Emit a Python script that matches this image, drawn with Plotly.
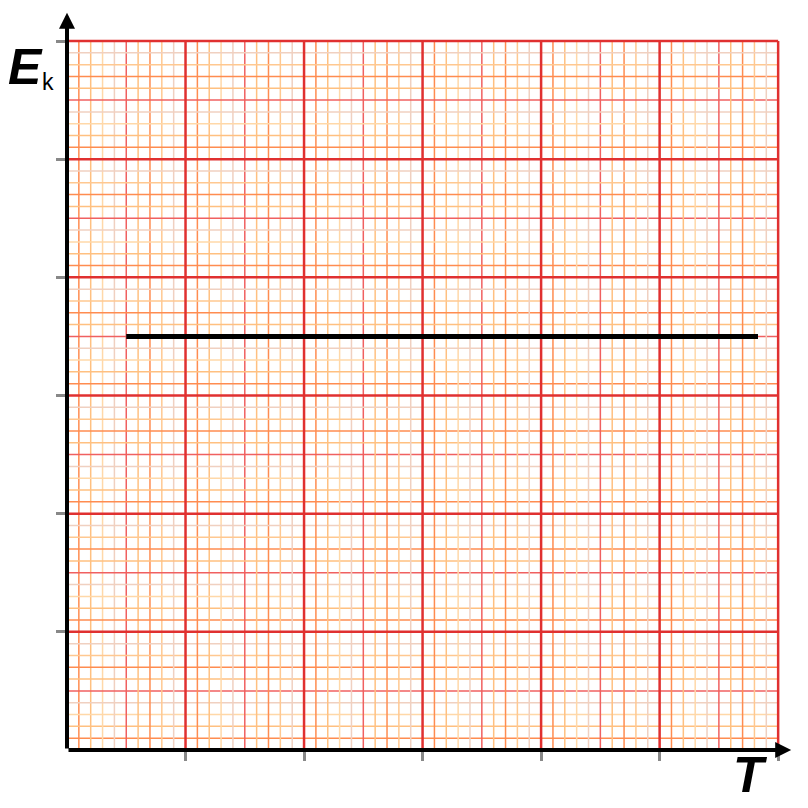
import plotly.graph_objects as go

# data: one horizontal line, Ek constant with T
t_vals = [0.5, 5.83]
ek_vals = [3.5, 3.5]

x_major = [1, 2, 3, 4, 5, 6]
y_major = [1, 2, 3, 4, 5, 6]
x_max, y_max = 6, 6

# colours of the 9 minor lines inside every major cell
minor_cols = ["#ff8c50", "#ffc080", "#ffd8a8", "#f0d0c0", "#f06060",
              "#ffc080", "#ff8c50", "#ffc890", "#f0d0c0"]
major_col = "#e03030"

fig = go.Figure()

shapes = []
for i in range(1, 10 * x_max):
    if i % 10 == 0:
        continue
    c = minor_cols[(i % 10) - 1]
    v = i / 10
    shapes.append(dict(type="line", xref="x", yref="y", x0=v, x1=v, y0=0, y1=y_max,
                       line=dict(color=c, width=1.5), layer="below"))
    shapes.append(dict(type="line", xref="x", yref="y", x0=0, x1=x_max, y0=v, y1=v,
                       line=dict(color=c, width=1.5), layer="below"))
for v in x_major:
    shapes.append(dict(type="line", xref="x", yref="y", x0=v, x1=v, y0=0, y1=y_max,
                       line=dict(color=major_col, width=2.5), layer="below"))
for v in y_major:
    shapes.append(dict(type="line", xref="x", yref="y", x0=0, x1=x_max, y0=v, y1=v,
                       line=dict(color=major_col, width=2.5), layer="below"))

fig.add_trace(go.Scatter(x=t_vals, y=ek_vals, mode="lines",
                         line=dict(color="black", width=5), showlegend=False))

# axes with arrows
fig.add_annotation(x=6.11, y=0, ax=0, ay=0, xref="x", yref="y", axref="x", ayref="y",
                   showarrow=True, arrowhead=2, arrowsize=0.8, arrowwidth=4, arrowcolor="black", text="")
fig.add_annotation(x=0, y=6.24, ax=0, ay=0, xref="x", yref="y", axref="x", ayref="y",
                   showarrow=True, arrowhead=2, arrowsize=0.8, arrowwidth=4, arrowcolor="black", text="")

# axis labels
fig.add_annotation(x=-0.0574, y=0.929, xref="paper", yref="paper", showarrow=False,
                   xanchor="center", yanchor="middle", text="<b><i>E</i></b>",
                   font=dict(family="Liberation Sans, Arial", size=50, color="black"))
fig.add_annotation(x=-0.0263, y=0.9095, xref="paper", yref="paper", showarrow=False,
                   xanchor="center", yanchor="middle", text="k",
                   font=dict(family="Liberation Sans, Arial", size=23, color="black"))
fig.add_annotation(x=0.9454, y=-0.034, xref="paper", yref="paper", showarrow=False,
                   xanchor="center", yanchor="middle", text="<b><i>T</i></b>",
                   font=dict(family="Liberation Sans, Arial", size=50, color="black"))

fig.update_layout(
    width=808, height=808,
    margin=dict(l=59, r=26, t=7, b=66, autoexpand=False),
    plot_bgcolor="white", paper_bgcolor="white",
    shapes=shapes,
    xaxis=dict(range=[0, 6.1], showgrid=False, zeroline=False, showline=False,
               tickvals=x_major, ticks="outside", ticklen=10, tickwidth=3,
               tickcolor="#888888", showticklabels=False),
    yaxis=dict(range=[0, 6.22], showgrid=False, zeroline=False, showline=False,
               tickvals=y_major, ticks="outside", ticklen=10, tickwidth=3,
               tickcolor="#888888", showticklabels=False),
)

fig.write_html("out.html")
